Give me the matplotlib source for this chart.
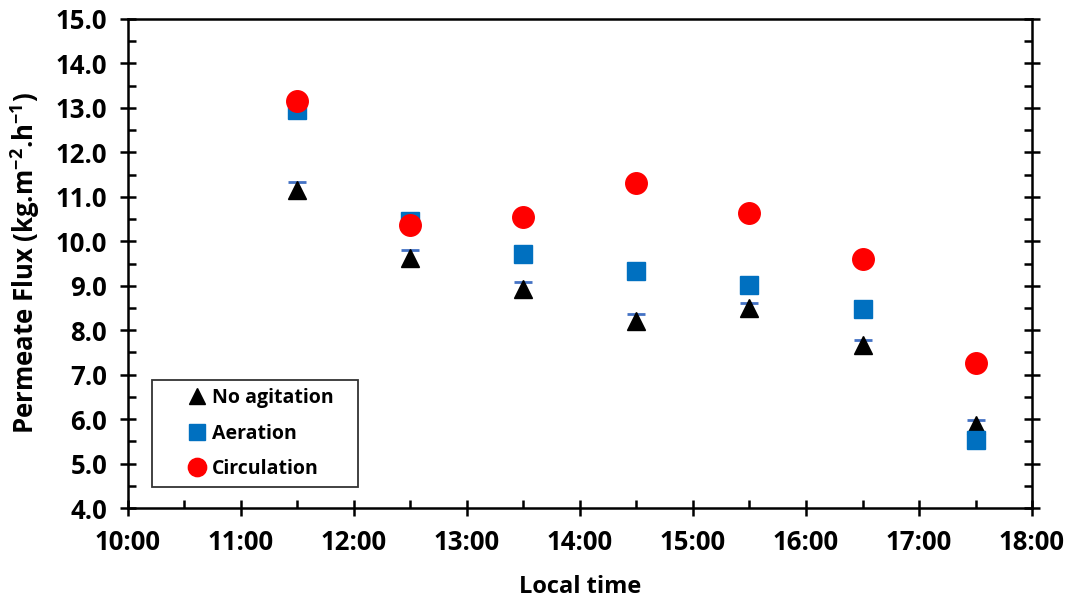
import matplotlib
matplotlib.use('Agg')
import matplotlib.pyplot as plt
from matplotlib.ticker import MultipleLocator, FuncFormatter

plt.rcParams['font.family'] = ['Open Sans', 'DejaVu Sans']
plt.rcParams['font.weight'] = 'bold'
plt.rcParams['mathtext.fontset'] = 'custom'
plt.rcParams['mathtext.rm'] = 'Open Sans:bold'
plt.rcParams['mathtext.bf'] = 'Open Sans:bold'

# data
horas = ['11:30', '12:30', '13:30', '14:30', '15:30', '16:30', '17:30']
sem_agitacao = [11.15, 9.62, 8.93, 8.21, 8.50, 7.67, 5.87]
erro_sem_agitacao = [0.18, 0.18, 0.15, 0.15, 0.12, 0.12, 0.12]
aeracao = [12.95, 10.46, 9.71, 9.33, 9.02, 8.48, 5.53]
circulacao = [13.16, 10.37, 10.55, 11.31, 10.64, 9.60, 7.26]


def para_horas(h):
    hh, mm = h.split(':')
    return int(hh) + int(mm) / 60


x = [para_horas(h) for h in horas]

fig = plt.figure(figsize=(10.69, 6.01), dpi=100)
ax = fig.add_axes([0.1197, 0.1547, 0.8457, 0.8137])

# so a barra de cima aparece (a de baixo fica escondida pelo triangulo)
_, caps, _ = ax.errorbar(x, sem_agitacao, yerr=[[0] * len(x), erro_sem_agitacao],
                         fmt='none', ecolor='#4472C4', elinewidth=1.2,
                         capsize=6.5, capthick=2, zorder=2)
caps[0].remove()
ax.plot(x, sem_agitacao, linestyle='none', marker='^', markersize=13,
        color='black', label='No agitation', zorder=3)
ax.plot(x, aeracao, linestyle='none', marker='s', markersize=13,
        color='#0070C0', label='Aeration', zorder=3)
ax.plot(x, circulacao, linestyle='none', marker='o', markersize=15.5,
        color='#FF0000', label='Circulation', zorder=4)

ax.set_xlim(10, 18)
ax.set_ylim(4, 15)
ax.xaxis.set_major_locator(MultipleLocator(1))
ax.xaxis.set_minor_locator(MultipleLocator(0.5))
ax.yaxis.set_major_locator(MultipleLocator(1))
ax.yaxis.set_minor_locator(MultipleLocator(0.5))
ax.xaxis.set_major_formatter(FuncFormatter(lambda v, p: f'{int(round(v))}:00'))
ax.yaxis.set_major_formatter(FuncFormatter(lambda v, p: f'{v:.1f}'))

for s in ax.spines.values():
    s.set_linewidth(1.8)
ax.tick_params(which='major', direction='inout', length=12, width=1.8,
               labelsize=18.5, pad=9, right=True, top=False)
ax.tick_params(which='minor', direction='in', length=6, width=1.8,
               right=True, top=False)
for lbl in ax.get_xticklabels() + ax.get_yticklabels():
    lbl.set_fontweight('bold')

ax.set_xlabel('Local time', fontsize=17, fontweight='bold', labelpad=14)
ax.set_ylabel('Permeate Flux (kg.m$^{-2}$.h$^{-1}$)',
              fontsize=18.5, fontweight='bold', labelpad=10)

leg = ax.legend(loc='lower left', bbox_to_anchor=(0.0265, 0.043, 0.228, 0.2),
                mode='expand', frameon=True, fancybox=False, edgecolor='black',
                prop={'size': 14, 'weight': 'bold'}, handletextpad=-1.1,
                borderpad=0.4, labelspacing=0.8, handlelength=3.8,
                borderaxespad=0, markerscale=0.85)
leg.get_frame().set_linewidth(1.3)

fig.savefig('out.png', dpi=100)
